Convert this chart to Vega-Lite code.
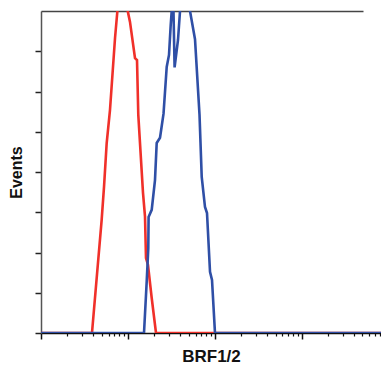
{
  "$schema": "https://vega.github.io/schema/vega-lite/v6.json",
  "width": 340,
  "height": 322,
  "autosize": {"type": "none"},
  "padding": {"left": 41, "top": 11, "right": 0, "bottom": 35},
  "background": "white",
  "config": {"view": {"stroke": null}},
  "datasets": {
    "curves": [
      {"s": "control", "x": 1, "y": 0},
      {"s": "control", "x": 3.86, "y": 0},
      {"s": "control", "x": 4.99, "y": 2.81},
      {"s": "control", "x": 5.31, "y": 3.63},
      {"s": "control", "x": 5.7, "y": 4.72},
      {"s": "control", "x": 6.22, "y": 5.54},
      {"s": "control", "x": 7.11, "y": 7.33},
      {"s": "control", "x": 7.57, "y": 8.0},
      {"s": "control", "x": 8.11, "y": 8.6},
      {"s": "control", "x": 9.26, "y": 8.6},
      {"s": "control", "x": 9.95, "y": 8.0},
      {"s": "control", "x": 10.57, "y": 7.73},
      {"s": "control", "x": 12.07, "y": 6.83},
      {"s": "control", "x": 12.73, "y": 6.78},
      {"s": "control", "x": 13.17, "y": 5.42},
      {"s": "control", "x": 14.92, "y": 3.48},
      {"s": "control", "x": 15.73, "y": 2.9},
      {"s": "control", "x": 16.15, "y": 1.86},
      {"s": "control", "x": 17.03, "y": 1.69},
      {"s": "control", "x": 18.79, "y": 0.87},
      {"s": "control", "x": 21.05, "y": 0},
      {"s": "control", "x": 8175, "y": 0},
      {"s": "treated", "x": 1, "y": 0},
      {"s": "treated", "x": 15.32, "y": 0},
      {"s": "treated", "x": 16.45, "y": 1.27},
      {"s": "treated", "x": 17.17, "y": 2.11},
      {"s": "treated", "x": 17.3, "y": 2.88},
      {"s": "treated", "x": 18.79, "y": 3.06},
      {"s": "treated", "x": 20.5, "y": 3.8},
      {"s": "treated", "x": 21.45, "y": 4.72},
      {"s": "treated", "x": 23.41, "y": 4.85},
      {"s": "treated", "x": 23.85, "y": 4.97},
      {"s": "treated", "x": 25.7, "y": 5.45},
      {"s": "treated", "x": 27.96, "y": 6.61},
      {"s": "treated", "x": 29.72, "y": 6.91},
      {"s": "treated", "x": 31.08, "y": 7.65},
      {"s": "treated", "x": 31.92, "y": 8.0},
      {"s": "treated", "x": 33.04, "y": 8.6},
      {"s": "treated", "x": 34.46, "y": 6.6},
      {"s": "treated", "x": 37.72, "y": 7.28},
      {"s": "treated", "x": 39.79, "y": 8.0},
      {"s": "treated", "x": 44.2, "y": 8.4},
      {"s": "treated", "x": 51.83, "y": 8.0},
      {"s": "treated", "x": 59.18, "y": 7.3},
      {"s": "treated", "x": 66.7, "y": 5.42},
      {"s": "treated", "x": 70.7, "y": 3.88},
      {"s": "treated", "x": 77.13, "y": 3.13},
      {"s": "treated", "x": 81.33, "y": 2.98},
      {"s": "treated", "x": 88.08, "y": 1.52},
      {"s": "treated", "x": 92.86, "y": 1.32},
      {"s": "treated", "x": 100.5, "y": 0},
      {"s": "treated", "x": 8175, "y": 0}
    ]
  },
  "data": {"name": "curves"},
  "resolve": {"axis": {"x": "independent", "y": "independent"}},
  "layer": [
    {
      "transform": [{"filter": "datum.s === 'control'"}],
      "mark": {"type": "line", "color": "#f0302a", "strokeWidth": 2.6, "clip": true},
      "encoding": {
        "x": {"field": "x", "type": "quantitative",
          "scale": {"type": "log", "domain": [1, 8175], "nice": false},
          "axis": {"orient": "bottom", "values": [1, 10, 100, 1000], "labels": false, "grid": false,
            "tickSize": 6, "tickWidth": 1.5, "tickColor": "#111", "domainColor": "#111", "domainWidth": 1.5,
            "title": "BRF1/2", "titleFont": "Liberation Sans", "titleFontSize": 17, "titleFontWeight": "bold",
            "titleColor": "#111", "titlePadding": 9}},
        "y": {"field": "y", "type": "quantitative",
          "scale": {"domain": [0, 8], "nice": false},
          "axis": {"orient": "left", "values": [0, 1, 2, 3, 4, 5, 6, 7], "labels": false, "grid": false,
            "tickSize": 6, "tickWidth": 1.5, "tickColor": "#222", "domainColor": "#555", "domainWidth": 1.5,
            "title": "Events", "titleFont": "Liberation Sans", "titleFontSize": 16, "titleFontWeight": "bold",
            "titleColor": "#111", "titlePadding": 10}}
      }
    },
    {
      "transform": [{"filter": "datum.s === 'treated'"}],
      "mark": {"type": "line", "color": "#2f4fa6", "strokeWidth": 2.6, "clip": true},
      "encoding": {
        "x": {"field": "x", "type": "quantitative",
          "axis": {"orient": "bottom", "values": [2, 3, 4, 5, 6, 7, 8, 9, 20, 30, 40, 50, 60, 70, 80, 90, 200, 300, 400, 500, 600, 700, 800, 900, 2000, 3000, 4000, 5000, 6000, 7000, 8000],
            "labels": false, "grid": false, "domain": false, "title": null,
            "tickSize": 3, "tickWidth": 1.2, "tickColor": "#111"}},
        "y": {"field": "y", "type": "quantitative",
          "axis": {"orient": "top", "labels": false, "ticks": false, "grid": false, "title": null,
            "domainColor": "#444", "domainWidth": 1.5}}
      }
    }
  ]
}
